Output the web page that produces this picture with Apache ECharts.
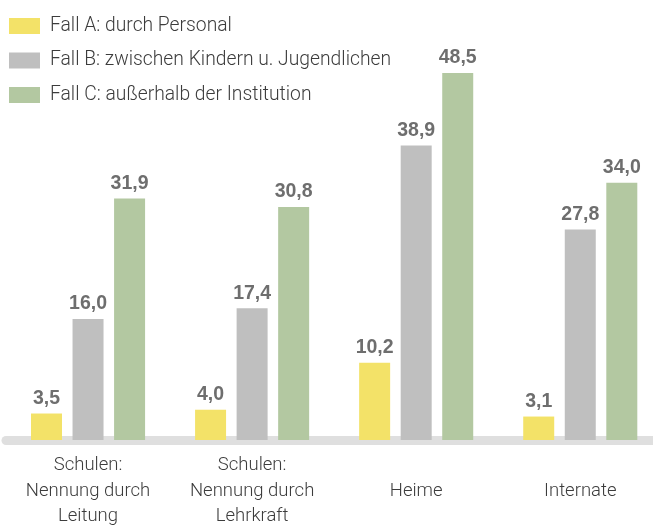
<!DOCTYPE html>
<html>
<head>
<meta charset="utf-8">
<script src="https://cdn.jsdelivr.net/npm/echarts@6/dist/echarts.min.js"></script>
<style>
html,body{margin:0;padding:0;background:#fff;}
#c{width:653px;height:529px;}
</style>
</head>
<body>
<div id="c"></div>
<script>
var categories = ['Schulen:\nNennung durch\nLeitung', 'Schulen:\nNennung durch\nLehrkraft', 'Heime', 'Internate'];
var seriesNames = ['Fall A: durch Personal', 'Fall B: zwischen Kindern u. Jugendlichen', 'Fall C: außerhalb der Institution'];
var fallA = [3.5, 4.0, 10.2, 3.1];
var fallB = [16.0, 17.4, 38.9, 27.8];
var fallC = [31.9, 30.8, 48.5, 34.0];
var colors = ['#f3e268', '#bfbfbf', '#b3c8a1'];

var thin = 'Roboto, "Liberation Sans", sans-serif';
var chart = echarts.init(document.getElementById('c'));
function mk(name, data, color) {
  return {
    name: name, type: 'bar', data: data, barWidth: 31, barGap: '34%',
    itemStyle: { color: color },
    label: {
      show: true, position: 'top', distance: 5,
      color: '#6e6e6e', fontSize: 19.5, fontWeight: 'bold',
      fontFamily: '"Liberation Sans", Arial, sans-serif',
      formatter: function (p) { return p.value.toFixed(1).replace('.', ','); }
    }
  };
}
chart.setOption({
  animation: false,
  color: colors,
  legend: {
    orient: 'vertical', left: 9, top: 16.5, padding: 0,
    itemWidth: 31, itemHeight: 16, itemGap: 15.5,
    icon: 'rect',
    textStyle: { fontFamily: thin, fontWeight: 300, fontSize: 19.3, color: '#3c3c3c', padding: [0, 0, 0, 5] },
    data: seriesNames
  },
  grid: { left: 6, width: 656.3, top: 61.6, bottom: 89, containLabel: false, outerBoundsMode: 'none' },
  xAxis: {
    type: 'category', data: categories, offset: 4.5,
    axisLine: { show: true, lineStyle: { color: '#dfdfdf', width: 9 } },
    axisTick: { show: false },
    axisLabel: {
      interval: 0, margin: 46.5, verticalAlign: 'middle',
      fontFamily: thin, fontWeight: 300, fontSize: 18.5, lineHeight: 25.5, color: '#3c3c3c'
    }
  },
  yAxis: { type: 'value', min: 0, max: 50, show: false, splitLine: { show: false } },
  series: [mk(seriesNames[0], fallA, colors[0]), mk(seriesNames[1], fallB, colors[1]), mk(seriesNames[2], fallC, colors[2])]
});
</script>
</body>
</html>
